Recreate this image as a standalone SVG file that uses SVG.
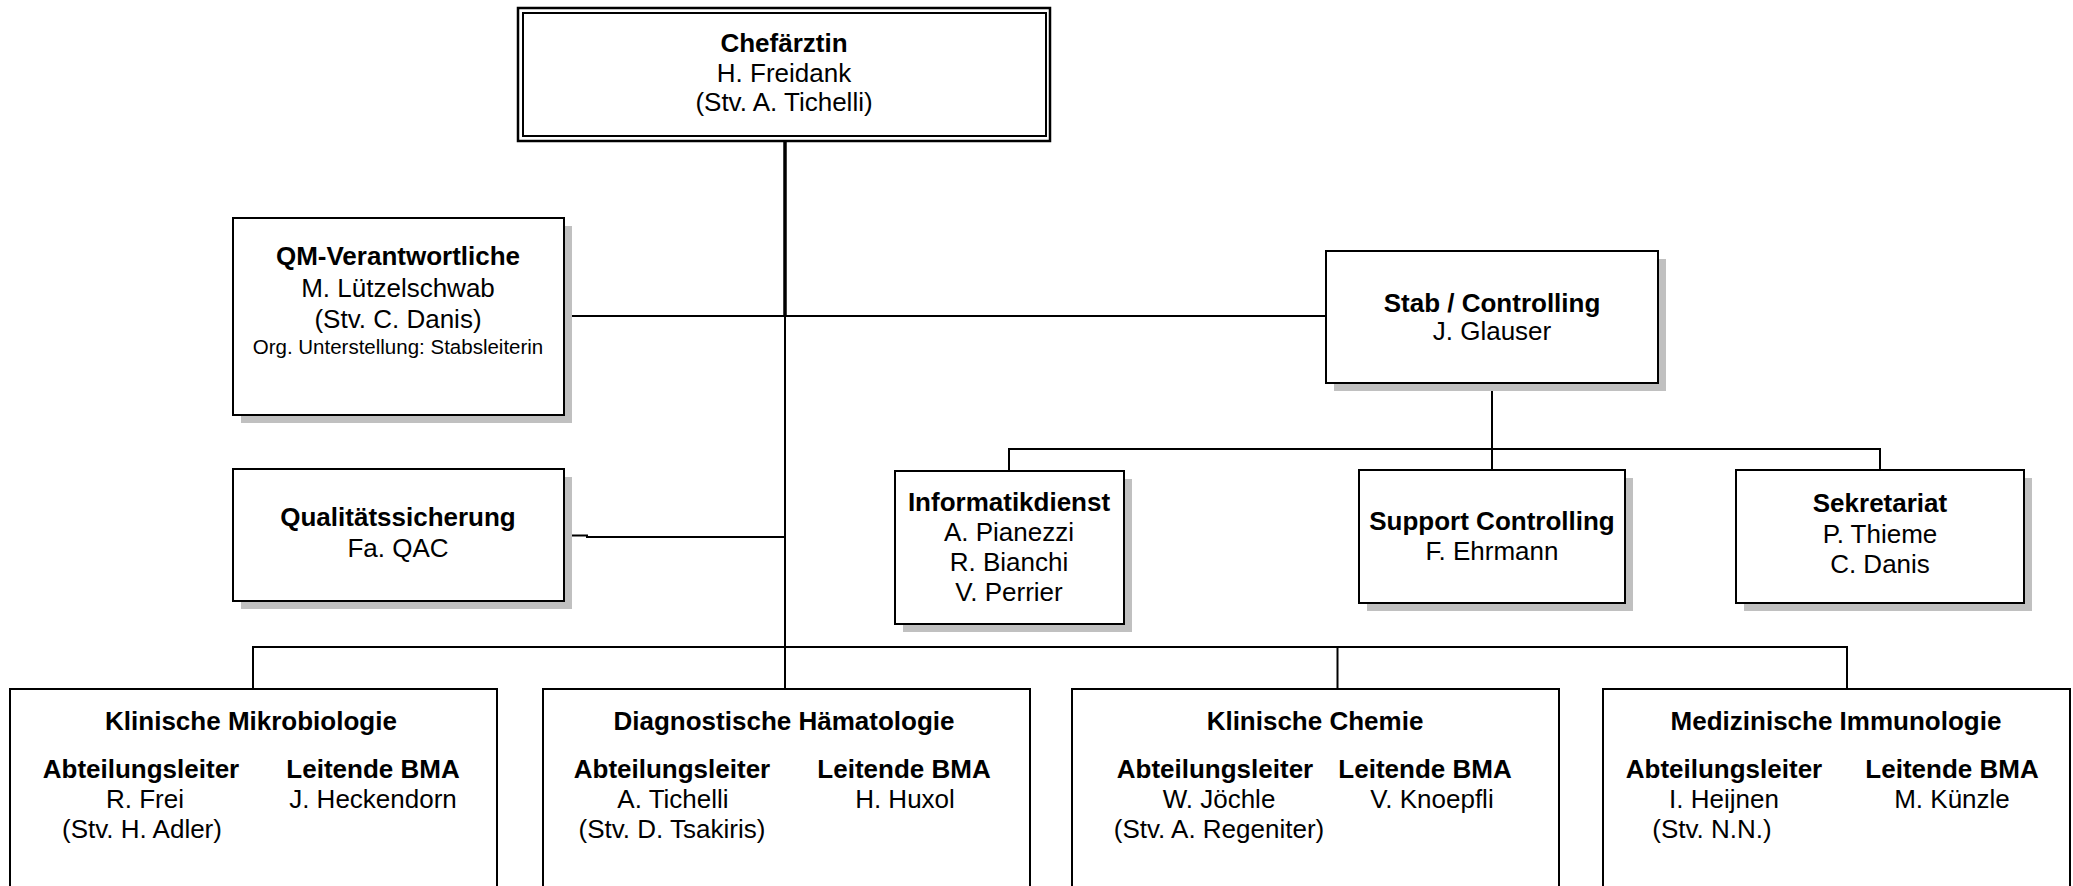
<svg xmlns="http://www.w3.org/2000/svg" width="2073" height="886" viewBox="0 0 2073 886">
<defs>
<style>
.box{fill:#fff;stroke:#000;stroke-width:2}
.sh{fill:#c0c0c0}
.ln{fill:none;stroke:#000;stroke-width:2}
text{font-family:"Liberation Sans",Arial,sans-serif;font-size:26px;fill:#000;text-anchor:middle}
.b{font-weight:bold}
.s{font-size:20.5px}
</style>
</defs>
<rect width="2073" height="886" fill="#fff"/>
<g id="connectors">
<line class="ln" x1="785" y1="141" x2="785" y2="317" style="stroke-width:3.5"/>
<line class="ln" x1="785" y1="316" x2="785" y2="689"/>
<line class="ln" x1="564" y1="316" x2="1326" y2="316"/>
<polyline class="ln" points="564,535.5 587,535.5 587,537 785,537"/>
<line class="ln" x1="1492" y1="383" x2="1492" y2="470"/>
<line class="ln" x1="1009" y1="449" x2="1880" y2="449"/>
<line class="ln" x1="1009" y1="448" x2="1009" y2="471"/>
<line class="ln" x1="1880" y1="448" x2="1880" y2="470"/>
<polyline class="ln" points="253,689 253,647 1847,647 1847,689"/>
<line class="ln" x1="1337.5" y1="647" x2="1337.5" y2="689"/>
</g>
<g id="chef">
<rect x="518" y="8" width="532" height="133" fill="#fff" stroke="#000" stroke-width="2.5"/>
<rect x="523" y="13" width="523" height="123" fill="none" stroke="#000" stroke-width="2"/>
<text x="784" y="52" class="b">Chefärztin</text>
<text x="784" y="82">H. Freidank</text>
<text x="784" y="111">(Stv. A. Tichelli)</text>
</g>
<g id="qm">
<rect class="sh" x="241" y="226" width="331" height="197"/>
<rect class="box" x="233" y="218" width="331" height="197"/>
<text x="398" y="265" class="b">QM-Verantwortliche</text>
<text x="398" y="297">M. Lützelschwab</text>
<text x="398" y="328">(Stv. C. Danis)</text>
<text x="398" y="354" class="s">Org. Unterstellung: Stabsleiterin</text>
</g>
<g id="qs">
<rect class="sh" x="241" y="477" width="331" height="132"/>
<rect class="box" x="233" y="469" width="331" height="132"/>
<text x="398" y="526" class="b">Qualitätssicherung</text>
<text x="398" y="557">Fa. QAC</text>
</g>
<g id="stab">
<rect class="sh" x="1334" y="259" width="332" height="132"/>
<rect class="box" x="1326" y="251" width="332" height="132"/>
<text x="1492" y="312" class="b">Stab / Controlling</text>
<text x="1492" y="340">J. Glauser</text>
</g>
<g id="informatik">
<rect class="sh" x="903" y="479" width="229" height="153"/>
<rect class="box" x="895" y="471" width="229" height="153"/>
<text x="1009" y="511" class="b">Informatikdienst</text>
<text x="1009" y="541">A. Pianezzi</text>
<text x="1009" y="571">R. Bianchi</text>
<text x="1009" y="601">V. Perrier</text>
</g>
<g id="support">
<rect class="sh" x="1367" y="478" width="266" height="133"/>
<rect class="box" x="1359" y="470" width="266" height="133"/>
<text x="1492" y="530" class="b">Support Controlling</text>
<text x="1492" y="560">F. Ehrmann</text>
</g>
<g id="sekretariat">
<rect class="sh" x="1744" y="478" width="288" height="133"/>
<rect class="box" x="1736" y="470" width="288" height="133"/>
<text x="1880" y="512" class="b">Sekretariat</text>
<text x="1880" y="543">P. Thieme</text>
<text x="1880" y="573">C. Danis</text>
</g>
<g id="mikro">
<rect class="box" x="10" y="689" width="487" height="220"/>
<text x="251" y="730" class="b">Klinische Mikrobiologie</text>
<text x="141" y="778" class="b">Abteilungsleiter</text>
<text x="373" y="778" class="b">Leitende BMA</text>
<text x="145" y="808">R. Frei</text>
<text x="142" y="838">(Stv. H. Adler)</text>
<text x="373" y="808">J. Heckendorn</text>
</g>
<g id="haem">
<rect class="box" x="543" y="689" width="487" height="220"/>
<text x="784" y="730" class="b">Diagnostische Hämatologie</text>
<text x="672" y="778" class="b">Abteilungsleiter</text>
<text x="904" y="778" class="b">Leitende BMA</text>
<text x="673" y="808">A. Tichelli</text>
<text x="672" y="838">(Stv. D. Tsakiris)</text>
<text x="905" y="808">H. Huxol</text>
</g>
<g id="chemie">
<rect class="box" x="1072" y="689" width="487" height="220"/>
<text x="1315" y="730" class="b">Klinische Chemie</text>
<text x="1215" y="778" class="b">Abteilungsleiter</text>
<text x="1425" y="778" class="b">Leitende BMA</text>
<text x="1219" y="808">W. Jöchle</text>
<text x="1219" y="838">(Stv. A. Regeniter)</text>
<text x="1432" y="808">V. Knoepfli</text>
</g>
<g id="immuno">
<rect class="box" x="1603" y="689" width="467" height="220"/>
<text x="1836" y="730" class="b">Medizinische Immunologie</text>
<text x="1724" y="778" class="b">Abteilungsleiter</text>
<text x="1952" y="778" class="b">Leitende BMA</text>
<text x="1724" y="808">I. Heijnen</text>
<text x="1712" y="838">(Stv. N.N.)</text>
<text x="1952" y="808">M. Künzle</text>
</g>
</svg>
